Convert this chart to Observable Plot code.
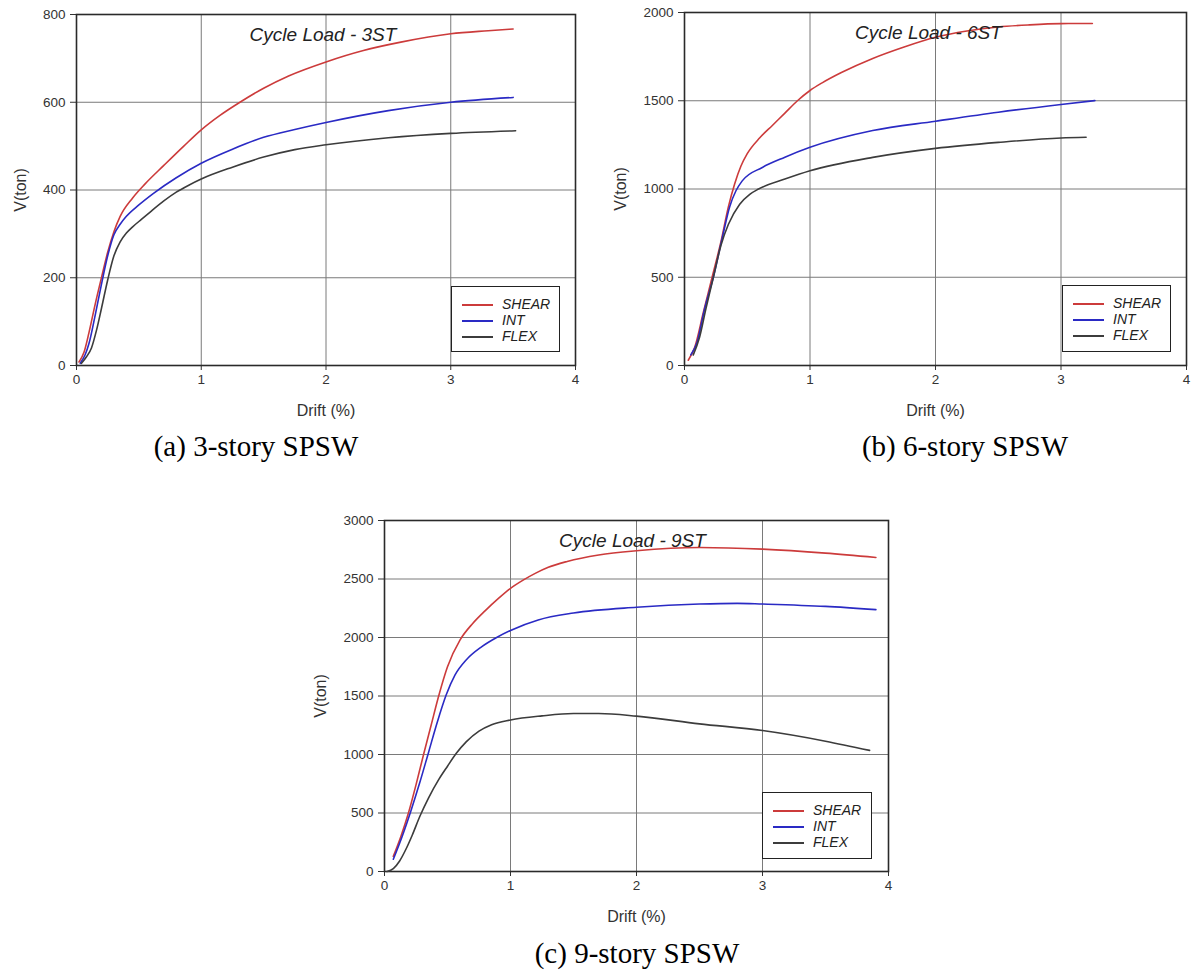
<!DOCTYPE html>
<html>
<head>
<meta charset="utf-8">
<script src="https://cdn.jsdelivr.net/npm/d3@7"></script>
<script src="https://cdn.jsdelivr.net/npm/@observablehq/plot@0.6"></script>
<style>
  html, body { margin: 0; padding: 0; background: #fff; }
  #root { position: relative; width: 1192px; height: 971px; background: #fff; overflow: hidden; }
  .panel { position: absolute; }
  .caption { position: absolute; font-family: "Liberation Serif", "Times New Roman", serif; font-size: 29px; color: #000; white-space: nowrap; transform: translateX(-50%); }
  .legend { position: absolute; border: 1.5px solid #222; background: #fff; box-sizing: border-box; font-family: "Liberation Sans", Arial, sans-serif; font-style: italic; font-size: 14px; color: #222; }
  .legend .row { position: absolute; left: 0; height: 16px; line-height: 16px; white-space: nowrap; }
  .legend .row span.sw { position: absolute; top: 8px; height: 0; border-top: 2px solid; }
  .legend .row span.tx { position: absolute; }
</style>
</head>
<body>
<div id="root"></div>
<script>
// ---- data: [drift (%), V (ton)] ----
const seriesNames = ["SHEAR", "INT", "FLEX"];
const seriesColors = ["#cc3b3b", "#2a2ac4", "#3c3c3c"];
const xTicks = [0, 1, 2, 3, 4];

// 3-story
const shear3 = [[0.02,8],[0.06,30],[0.1,75],[0.15,140],[0.2,200],[0.25,258],[0.3,305],[0.35,340],[0.45,382],[0.55,414],[0.7,456],[0.86,500],[1.0,537],[1.15,570],[1.31,600],[1.5,632],[1.7,660],[2.0,692],[2.3,718],[2.6,737],[3.0,756],[3.3,763],[3.5,767]];
const int3 = [[0.03,5],[0.07,25],[0.1,50],[0.15,115],[0.2,185],[0.25,250],[0.3,298],[0.35,322],[0.4,340],[0.5,366],[0.62,393],[0.8,428],[1.0,461],[1.25,493],[1.5,520],[1.75,538],[2.0,554],[2.5,581],[3.0,600],[3.5,611]];
const flex3 = [[0.04,5],[0.08,20],[0.12,40],[0.16,80],[0.2,130],[0.25,195],[0.3,250],[0.35,282],[0.4,302],[0.45,316],[0.52,333],[0.6,352],[0.7,375],[0.8,395],[0.9,411],[1.0,425],[1.25,452],[1.5,475],[1.75,492],[2.0,503],[2.5,519],[3.0,529],[3.52,535]];
const yTicks3 = [0, 200, 400, 600, 800];

// 6-story
const shear6 = [[0.03,30],[0.08,100],[0.15,300],[0.22,500],[0.29,700],[0.35,900],[0.4,1030],[0.45,1130],[0.5,1200],[0.6,1290],[0.7,1360],[0.8,1430],[0.9,1500],[1.0,1558],[1.1,1603],[1.25,1660],[1.5,1740],[1.75,1805],[2.0,1860],[2.25,1895],[2.5,1918],[2.75,1930],[3.0,1937],[3.25,1938]];
const int6 = [[0.05,60],[0.1,130],[0.16,320],[0.23,500],[0.3,720],[0.36,900],[0.41,990],[0.46,1046],[0.62,1122],[0.8,1180],[1.0,1236],[1.5,1331],[2.0,1384],[2.5,1435],[3.0,1479],[3.27,1501]];
const flex6 = [[0.07,60],[0.12,160],[0.17,320],[0.23,500],[0.29,680],[0.35,800],[0.44,914],[0.52,970],[0.59,1000],[0.8,1056],[1.0,1103],[1.5,1179],[2.0,1230],[2.5,1264],[3.0,1289],[3.2,1293]];
const yTicks6 = [0, 500, 1000, 1500, 2000];

// 9-story
const shear9 = [[0.07,130],[0.13,300],[0.19,500],[0.25,740],[0.31,1000],[0.37,1250],[0.43,1500],[0.5,1750],[0.6,1980],[0.7,2120],[0.8,2230],[0.9,2330],[1.0,2420],[1.1,2490],[1.2,2550],[1.3,2600],[1.45,2650],[1.7,2705],[2.0,2741],[2.5,2769],[3.0,2755],[3.5,2721],[3.9,2684]];
const int9 = [[0.07,105],[0.14,300],[0.21,520],[0.28,760],[0.35,1020],[0.42,1280],[0.49,1510],[0.56,1680],[0.65,1810],[0.77,1920],[0.89,2000],[1.0,2060],[1.22,2150],[1.5,2209],[2.0,2258],[2.5,2286],[2.8,2292],[3.0,2286],[3.5,2266],[3.9,2238]];
const flex9 = [[0.02,0],[0.07,25],[0.12,90],[0.17,190],[0.22,310],[0.28,470],[0.35,630],[0.43,785],[0.5,900],[0.57,1010],[0.65,1110],[0.75,1200],[0.85,1255],[1.0,1295],[1.25,1330],[1.5,1350],[1.7,1350],[2.0,1328],[2.5,1262],[3.0,1205],[3.5,1114],[3.85,1035]];
const yTicks9 = [0, 500, 1000, 1500, 2000, 2500, 3000];

const titles = ["Cycle Load - 3ST", "Cycle Load - 6ST", "Cycle Load - 9ST"];
const captions = ["(a) 3-story SPSW", "(b) 6-story SPSW", "(c) 9-story SPSW"];
const xLabel = "Drift (%)";
const yLabel = "V(ton)";

// ---- layout (positions/sizes) ----
const layout = [
  {series: [shear3, int3, flex3], yTicks: yTicks3, left: 0, top: 0, mL: 76, mT: 14, pw: 499, ph: 351, mR: 17, mB: 66, titleDx: -3, yLabOff: 62,
   legend: {left: 451, top: 286, w: 109, h: 66}, caption: {x: 256, y: 430}},
  {series: [shear6, int6, flex6], yTicks: yTicks6, left: 596, top: 0, mL: 88, mT: 12, pw: 502, ph: 353, mR: 6, mB: 66, titleDx: -7, yLabOff: 70,
   legend: {left: 1062, top: 285, w: 109, h: 67}, caption: {x: 965, y: 430}},
  {series: [shear9, int9, flex9], yTicks: yTicks9, left: 296, top: 500, mL: 88, mT: 20, pw: 504, ph: 351, mR: 20, mB: 62, titleDx: -4, yLabOff: 70,
   legend: {left: 762, top: 792, w: 110, h: 67}, caption: {x: 637, y: 937}}
];

const root = document.getElementById("root");

layout.forEach((L, i) => {
  const rows = [];
  L.series.forEach((pts, k) => pts.forEach(([d, v]) => rows.push({drift: d, V: v, s: seriesNames[k]})));
  const ymax = L.yTicks[L.yTicks.length - 1];
  const chart = Plot.plot({
    width: L.mL + L.pw + L.mR,
    height: L.mT + L.ph + L.mB,
    marginLeft: L.mL, marginTop: L.mT, marginRight: L.mR, marginBottom: L.mB,
    style: {fontFamily: "'Liberation Sans', Arial, sans-serif", fontSize: "13px", color: "#333", background: "transparent"},
    x: {domain: [0, 4]},
    y: {domain: [0, ymax]},
    color: {domain: seriesNames, range: seriesColors},
    marks: [
      Plot.gridX(xTicks, {stroke: "#7a7a7a", strokeOpacity: 1, strokeWidth: 1}),
      Plot.gridY(L.yTicks, {stroke: "#7a7a7a", strokeOpacity: 1, strokeWidth: 1}),
      Plot.axisX(xTicks, {tickFormat: "d", tickSize: 5, tickPadding: 4, fontSize: 13.5, stroke: "#333",
        label: xLabel, labelAnchor: "center", labelOffset: 50, labelArrow: "none"}),
      Plot.axisY(L.yTicks, {tickFormat: "d", tickSize: 6, tickPadding: 5, fontSize: 13.5, stroke: "#333",
        label: yLabel, labelAnchor: "center", labelOffset: L.yLabOff, labelArrow: "none"}),
      Plot.frame({stroke: "#2a2a2a", strokeWidth: 1.6}),
      Plot.line(rows, {x: "drift", y: "V", z: "s", stroke: "s", strokeWidth: 1.6, curve: "monotone-x"}),
      Plot.text([titles[i]], {frameAnchor: "top", dx: L.titleDx, dy: 20, lineAnchor: "middle", fontSize: 19, fontStyle: "italic", fill: "#222"})
    ]
  });
  chart.querySelectorAll("text").forEach(t => {
    const s = t.textContent;
    if (s.indexOf("Drift") >= 0 || s.indexOf("V(ton)") >= 0) t.style.fontSize = "16px";
  });
  const div = document.createElement("div");
  div.className = "panel";
  div.style.left = L.left + "px";
  div.style.top = L.top + "px";
  div.appendChild(chart);
  root.appendChild(div);

  // legend
  const lg = document.createElement("div");
  lg.className = "legend";
  lg.style.left = L.legend.left + "px";
  lg.style.top = L.legend.top + "px";
  lg.style.width = L.legend.w + "px";
  lg.style.height = L.legend.h + "px";
  seriesNames.forEach((name, k) => {
    const r = document.createElement("div");
    r.className = "row";
    r.style.top = (9 + k * 16) + "px";
    r.style.width = "100%";
    const sw = document.createElement("span");
    sw.className = "sw";
    sw.style.left = "10px";
    sw.style.width = "31px";
    sw.style.borderColor = seriesColors[k];
    const tx = document.createElement("span");
    tx.className = "tx";
    tx.style.left = "50px";
    tx.textContent = name;
    r.appendChild(sw); r.appendChild(tx);
    lg.appendChild(r);
  });
  root.appendChild(lg);

  const cap = document.createElement("div");
  cap.className = "caption";
  cap.style.left = L.caption.x + "px";
  cap.style.top = L.caption.y + "px";
  cap.textContent = captions[i];
  root.appendChild(cap);
});
</script>
</body>
</html>
